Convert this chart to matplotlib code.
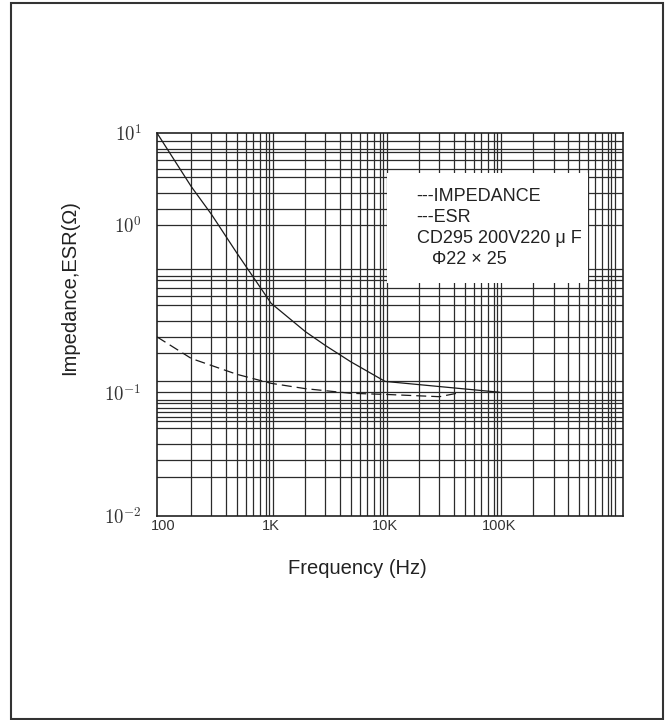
import numpy as np
import matplotlib
matplotlib.use("Agg")
import matplotlib.pyplot as plt
from matplotlib.patches import Rectangle
from matplotlib.transforms import ScaledTranslation

plt.rcParams['font.family'] = ['Liberation Sans', 'DejaVu Sans']
plt.rcParams['mathtext.fontset'] = 'cm'

imp_freq = [100, 200, 300, 500, 1000, 2000, 3000, 5000, 10000, 100000]
imp_val = [10, 2.6, 1.3, 0.68, 0.34, 0.23, 0.19, 0.152, 0.116, 0.1]

esr_freq = [100, 200, 500, 1000, 2000, 5000, 10000, 30000, 45000]
esr_val = [0.214, 0.159, 0.128, 0.113, 0.105, 0.098, 0.096, 0.092, 0.099]

x_ticks = [100, 1000, 10000, 100000]
x_ticklabels = ['100', '1K', '10K', '100K']
y_ticks = [0.01, 0.1, 1, 10]
y_ticklabels = [r'$10^{-2}$', r'$10^{-1}$', r'$10^{0}$', r'$10^{1}$']

legend_lines = ['---IMPEDANCE', '---ESR', 'CD295 200V220 \u03bc F', '   \u03a622 \u00d7 25']

# the printed sheet has uneven decades, so the y scale is piecewise log
dec = np.array([-2.0, -1.0, 0.0, 1.0])
pos = np.array([0.0, 123.7, 291.0, 382.7])


def fwd(y):
    u = np.log10(np.clip(np.asarray(y, dtype=float), 1e-300, None))
    out = np.interp(u, dec, pos)
    out = np.where(u < dec[0], pos[0] + (u - dec[0]) * 123.7, out)
    out = np.where(u > dec[-1], pos[-1] + (u - dec[-1]) * 91.7, out)
    return out


def inv(p):
    p = np.asarray(p, dtype=float)
    u = np.interp(p, pos, dec)
    u = np.where(p < pos[0], dec[0] + (p - pos[0]) / 123.7, u)
    u = np.where(p > pos[-1], dec[-1] + (p - pos[-1]) / 91.7, u)
    return 10 ** u


# horizontal rulings of the sheet
y_grid = [8.24, 6.69, 6.14, 5.02, 4.05, 3.31, 2.22, 1.48, 1,
          0.543, 0.491, 0.469, 0.419, 0.373, 0.333, 0.267, 0.215, 0.172, 0.117, 0.1,
          0.0867, 0.0815, 0.0743, 0.0687, 0.0635, 0.0589, 0.0512, 0.0382, 0.0284, 0.0208]

fig = plt.figure(figsize=(6.69, 7.2), dpi=100)
ax = fig.add_axes([157 / 669, 1 - 516 / 720, 466 / 669, 383 / 720])

ax.set_xscale('log')
ax.set_yscale('function', functions=(fwd, inv))
ax.set_xlim(100, 1.22e6)
ax.set_ylim(0.01, 10)

gc = '#2b2b2b'
for d in [100, 1000, 10000, 100000]:
    for k in range(2, 10):
        ax.axvline(k * d, color=gc, lw=0.9, zorder=1)
for d in [1000, 10000, 100000, 1000000]:
    ax.axvline(d * 0.965, color=gc, lw=0.9, zorder=1)
    ax.axvline(d * 1.03, color=gc, lw=0.9, zorder=1)
for v in y_grid:
    ax.axhline(v, color=gc, lw=0.9, zorder=1)

ax.plot(imp_freq, imp_val, color='#1a1a1a', lw=0.9, zorder=4)
ax.plot(esr_freq, esr_val, color='#1a1a1a', lw=0.9, dashes=(8, 4), zorder=4)

# white box holding the notes
ax.add_patch(Rectangle((0.4936, 0.608), 0.4314, 0.2876, transform=ax.transAxes,
                       facecolor='white', edgecolor='none', zorder=2))
for i, s in enumerate(legend_lines):
    ax.text(0.557, 0.833 - i * 0.0548, s, transform=ax.transAxes, fontsize=13,
            color='#222', va='center', ha='left', zorder=3)

ax.set_xticks(x_ticks)
ax.set_xticklabels(x_ticklabels)
ax.set_yticks(y_ticks)
ax.set_yticklabels(y_ticklabels)
ax.minorticks_off()
ax.tick_params(axis='x', length=0, pad=2.5, labelsize=10.5, labelcolor='#333')
ax.tick_params(axis='y', length=0, pad=11, labelsize=13.5, labelcolor='#333')
# "100" sits a little right of the corner on the sheet
lab0 = ax.get_xticklabels()[0]
lab0.set_transform(lab0.get_transform() + ScaledTranslation(6 / 100, 0, fig.dpi_scale_trans))
for sp in ax.spines.values():
    sp.set_color('#222')
    sp.set_linewidth(1.2)

fig.text(357 / 669, 1 - 569 / 720, 'Frequency (Hz)', fontsize=14.5, color='#222',
         ha='center', va='center')
fig.text(70 / 669, 1 - 288 / 720, 'Impedance,ESR(\u03a9)', fontsize=14.5, color='#222',
         ha='center', va='center', rotation=90)

# border round the whole sheet
fig.add_artist(Rectangle((11 / 669, 1 / 720), 652 / 669, 716 / 720, transform=fig.transFigure,
                         facecolor='none', edgecolor='#333', lw=1.5))

fig.savefig('out.png', dpi=100)
